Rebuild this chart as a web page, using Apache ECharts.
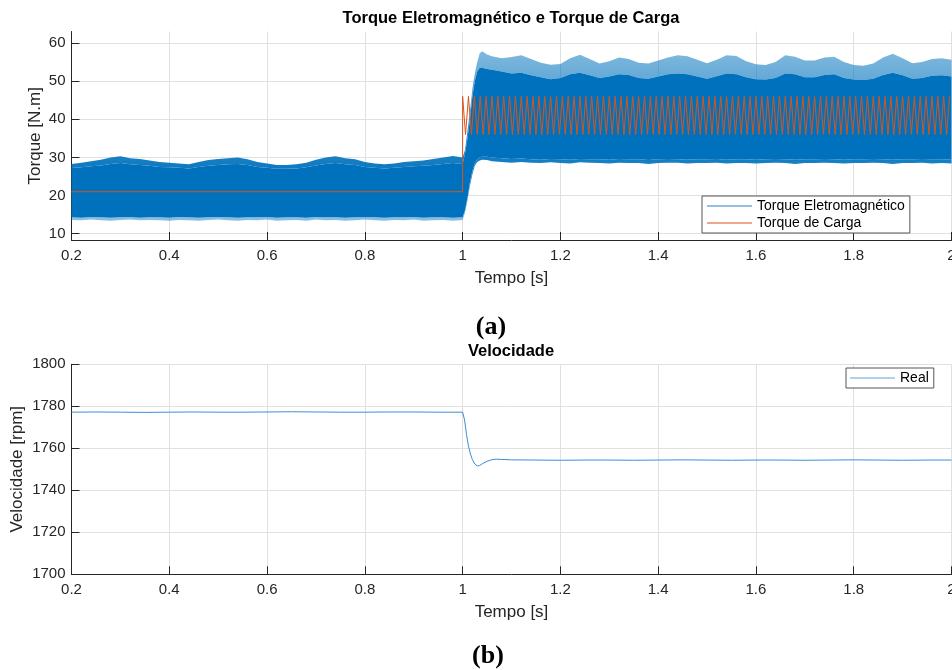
<!DOCTYPE html>
<html><head><meta charset="utf-8">
<script src="https://cdn.jsdelivr.net/npm/echarts@6/dist/echarts.min.js"></script>
<style>html,body{margin:0;padding:0;background:#fff}#c{width:952px;height:670px}</style>
</head><body><div id="c"></div>
<script>
// ---------- data ----------
const torqueYTicks = [10, 20, 30, 40, 50, 60];

// Electromagnetic torque envelope (time in s, torque in N.m)
const temTime = [0.20,0.22,0.24,0.26,0.28,0.30,0.32,0.34,0.36,0.38,0.40,0.42,0.44,0.46,0.48,0.50,0.52,0.54,0.56,0.58,0.60,0.62,0.64,0.66,0.68,0.70,0.72,0.74,0.76,0.78,0.80,0.82,0.84,0.86,0.88,0.90,0.92,0.94,0.96,0.98,1.00,
 1.005,1.01,1.015,1.02,1.025,1.03,1.035,1.04,1.05,
 1.06,1.08,1.10,1.12,1.14,1.16,1.18,1.20,1.22,1.24,1.26,1.28,1.30,1.32,1.34,1.36,1.38,1.40,1.42,1.44,1.46,1.48,1.50,1.52,1.54,1.56,1.58,1.60,1.62,1.64,1.66,1.68,1.70,1.72,1.74,1.76,1.78,1.80,1.82,1.84,1.86,1.88,1.90,1.92,1.94,1.96,1.98,2.00];
const temUpperPeak = [28.3,28.6,29.0,29.4,30.0,30.3,29.8,29.6,29.2,28.8,28.6,28.4,28.2,28.8,29.3,29.6,29.8,30.0,29.5,28.8,28.4,28.0,28.0,28.2,28.6,29.4,30.0,30.3,29.8,29.5,28.8,28.4,28.2,28.4,28.8,29.0,29.2,29.6,30.0,30.4,30.0,
 32,37,42,48,52,55,57.3,57.8,57.0,
 56.5,56.0,56.3,56.8,55.8,54.8,54.3,54.5,56.0,56.9,55.8,54.6,55.2,56.2,55.8,54.8,54.6,55.4,56.2,56.8,56.5,55.6,54.7,55.6,56.8,56.6,55.2,54.4,54.2,55.0,56.8,56.4,55.4,55.4,56.2,56.4,55.0,54.2,54.0,54.6,56.2,57.2,56.0,54.7,55.0,55.8,56.0,55.6];
const temUpper = [27.2,27.4,27.7,27.9,28.3,28.5,28.2,28.0,27.8,27.5,27.4,27.3,27.1,27.5,27.8,28.0,28.2,28.3,28.0,27.5,27.3,27.0,27.0,27.1,27.4,27.9,28.3,28.5,28.2,28.0,27.5,27.3,27.1,27.3,27.5,27.7,27.8,28.0,28.3,28.5,28.3,
 31,35,40,46,50,52.5,53.5,53.5,53.2,
 53.0,52.5,52.0,52.2,51.5,51.0,50.5,50.8,51.8,52.2,51.5,50.8,51.2,51.8,51.6,50.8,50.6,51.2,51.8,52.0,51.8,51.2,50.6,51.3,52.0,51.8,51.0,50.5,50.4,50.8,52.0,51.8,51.0,51.0,51.6,51.8,50.8,50.4,50.3,50.6,51.6,52.2,51.5,50.6,50.8,51.4,51.5,51.2];
const temLower = [14.3,14.2,14.4,14.3,14.2,14.3,14.4,14.2,14.3,14.3,14.2,14.4,14.3,14.2,14.3,14.4,14.3,14.2,14.3,14.3,14.4,14.2,14.3,14.3,14.2,14.4,14.3,14.3,14.2,14.3,14.4,14.3,14.2,14.3,14.3,14.4,14.2,14.3,14.3,14.2,14.3,
 16.2,19.5,23.5,26.5,28.5,29.5,30.0,30.2,30.2,
 30.0,29.8,29.6,29.7,29.5,29.4,29.6,29.5,29.4,29.6,29.5,29.5,29.4,29.6,29.5,29.5,29.3,29.5,29.6,29.5,29.4,29.5,29.5,29.6,29.4,29.5,29.5,29.4,29.5,29.6,29.5,29.4,29.5,29.5,29.6,29.5,29.4,29.5,29.5,29.6,29.5,29.4,29.5,29.5,29.6,29.5,29.5,29.4];
const temLowerPeak = [13.6,13.5,13.7,13.5,13.4,13.6,13.7,13.5,13.6,13.5,13.4,13.6,13.5,13.4,13.6,13.7,13.5,13.4,13.6,13.5,13.7,13.4,13.5,13.6,13.4,13.7,13.5,13.6,13.4,13.5,13.7,13.5,13.4,13.6,13.5,13.7,13.4,13.5,13.6,13.4,13.6,
 15.5,18.8,22.5,25.5,27.8,28.8,29.2,29.4,29.3,
 29.0,28.8,28.6,28.8,28.6,28.5,28.7,28.5,28.4,28.7,28.6,28.5,28.4,28.6,28.5,28.5,28.3,28.5,28.6,28.6,28.4,28.5,28.5,28.6,28.4,28.5,28.5,28.4,28.5,28.6,28.5,28.3,28.5,28.5,28.6,28.5,28.4,28.5,28.5,28.6,28.5,28.3,28.5,28.5,28.6,28.4,28.5,28.4];

// Load torque: constant part, then oscillation sampled every loadOscStep seconds from loadOscStart
const loadTime = [0.2, 1.0];
const loadValues = [21, 21];
const loadOscStart = 1.0;
const loadOscStep = 0.006;
const loadOscValues = [46,36,46,36,46,36,46,36,46,36,46,36,46,36,46,36,46,36,46,36,
 46,36,46,36,46,36,46,36,46,36,46,36,46,36,46,36,46,36,46,36,
 46,36,46,36,46,36,46,36,46,36,46,36,46,36,46,36,46,36,46,36,
 46,36,46,36,46,36,46,36,46,36,46,36,46,36,46,36,46,36,46,36,
 46,36,46,36,46,36,46,36,46,36,46,36,46,36,46,36,46,36,46,36,
 46,36,46,36,46,36,46,36,46,36,46,36,46,36,46,36,46,36,46,36,
 46,36,46,36,46,36,46,36,46,36,46,36,46,36,46,36,46,36,46,36,
 46,36,46,36,46,36,46,36,46,36,46,36,46,36,46,36,46,36,46,36,
 46,36,46,36,46,36,46];

// Speed (rpm)
const speedTime = [0.20,0.25,0.30,0.35,0.40,0.45,0.50,0.55,0.60,0.65,0.70,0.75,0.80,0.85,0.90,0.95,1.00,
 1.004,1.008,1.012,1.016,1.02,1.025,1.03,1.035,1.04,1.05,1.06,1.07,1.08,1.10,
 1.15,1.20,1.25,1.30,1.35,1.40,1.45,1.50,1.55,1.60,1.65,1.70,1.75,1.80,1.85,1.90,1.95,2.00];
const speedValues = [1777.2,1777.3,1777.2,1777.1,1777.2,1777.3,1777.2,1777.2,1777.3,1777.4,1777.3,1777.2,1777.2,1777.3,1777.3,1777.2,1777.2,
 1773.5,1766.5,1761.0,1757.3,1754.6,1752.5,1751.6,1751.8,1752.6,1753.8,1754.6,1754.8,1754.7,1754.5,
 1754.4,1754.3,1754.4,1754.4,1754.3,1754.4,1754.5,1754.4,1754.3,1754.4,1754.4,1754.3,1754.4,1754.5,1754.4,1754.3,1754.4,1754.4];

// ---------- build ----------
const FONT = '"Liberation Sans", Arial, Helvetica, sans-serif';
const AX = '#262626';
const GRIDC = '#e0e0e0';
const BLUE = '#0072BD';
const ORANGE = '#D95319';

function pairs(t, v) { return t.map((x, i) => [x, v[i]]); }
const fringeUp = new echarts.graphic.LinearGradient(0, 0, 0, 1, [
  { offset: 0, color: 'rgba(0,114,189,0.5)' }, { offset: 1, color: 'rgba(0,114,189,0.95)' }]);
const fringeDown = new echarts.graphic.LinearGradient(0, 0, 0, 1, [
  { offset: 0, color: 'rgba(0,114,189,0.95)' }, { offset: 1, color: 'rgba(0,114,189,0.45)' }]);
const bands = [
  { low: temLowerPeak, high: temLower, fill: fringeDown },
  { low: temLower, high: temUpper, fill: BLUE },
  { low: temUpper, high: temUpperPeak, fill: fringeUp }
];
const loadData = pairs(loadTime, loadValues).concat(loadOscValues.map((v, i) => [loadOscStart + i * loadOscStep, v]));
const speedData = pairs(speedTime, speedValues);

function xAxisCfg(gi) {
  return {
    type: 'value', gridIndex: gi, min: 0.2, max: 2, interval: 0.2,
    name: 'Tempo [s]', nameLocation: 'middle', nameGap: 30, nameMoveOverlap: false,
    nameTextStyle: { fontFamily: FONT, fontSize: 17, color: AX },
    axisLine: { show: true, lineStyle: { color: AX, width: 1 } },
    axisTick: { show: true, inside: true, length: 8, lineStyle: { color: AX } },
    axisLabel: { fontFamily: FONT, fontSize: 15, color: AX, margin: 8 },
    splitLine: { show: true, lineStyle: { color: GRIDC, width: 1 } }
  };
}
const plainFmt = v => String(v);

const chart = echarts.init(document.getElementById('c'), null, { renderer: 'canvas' });
chart.setOption({
  animation: false,
  backgroundColor: '#fff',
  grid: [
    { left: 71.5, right: 0.5, top: 31.5, height: 208.5, containLabel: false, outerBoundsMode: 'none' },
    { left: 71.5, right: 0.5, top: 364.3, height: 210, containLabel: false, outerBoundsMode: 'none' }
  ],
  xAxis: [xAxisCfg(0), xAxisCfg(1)],
  yAxis: [
    {
      type: 'value', gridIndex: 0, min: 8.35, max: 63,
      name: 'Torque [N.m]', nameLocation: 'middle', nameGap: 28, nameMoveOverlap: false,
      nameTextStyle: { fontFamily: FONT, fontSize: 17, color: AX },
      axisLine: { show: true, lineStyle: { color: AX, width: 1 } },
      axisTick: { show: true, inside: true, length: 8, lineStyle: { color: AX }, customValues: torqueYTicks },
      axisLabel: { fontFamily: FONT, fontSize: 15, color: AX, margin: 6, customValues: torqueYTicks, formatter: plainFmt },
      splitLine: { show: true, lineStyle: { color: GRIDC, width: 1 } }
    },
    {
      type: 'value', gridIndex: 1, min: 1700, max: 1800, interval: 20,
      name: 'Velocidade [rpm]', nameLocation: 'middle', nameGap: 46, nameMoveOverlap: false,
      nameTextStyle: { fontFamily: FONT, fontSize: 17, color: AX },
      axisLine: { show: true, lineStyle: { color: AX, width: 1 } },
      axisTick: { show: true, inside: true, length: 8, lineStyle: { color: AX } },
      axisLabel: { fontFamily: FONT, fontSize: 15, color: AX, margin: 6, formatter: plainFmt },
      splitLine: { show: true, lineStyle: { color: GRIDC, width: 1 } }
    }
  ],
  legend: [
    {
      data: [
        { name: 'Torque Eletromagnético', itemStyle: { color: '#2a80c6' } },
        { name: 'Torque de Carga', itemStyle: { color: ORANGE } }
      ],
      orient: 'vertical', left: 702, top: 196, icon: 'rect', itemWidth: 45, itemHeight: 1, itemGap: 3,
      padding: [3, 5, 3, 5], backgroundColor: '#fff', borderColor: '#555', borderWidth: 1, borderRadius: 0,
      textStyle: { fontFamily: FONT, fontSize: 14, color: '#000' }, selectedMode: false
    },
    {
      data: [{ name: 'Real', itemStyle: { color: '#5aa5dd' } }],
      orient: 'vertical', left: 846, top: 368, icon: 'rect', itemWidth: 45, itemHeight: 1,
      padding: [3, 5, 3, 4], backgroundColor: '#fff', borderColor: '#555', borderWidth: 1, borderRadius: 0,
      textStyle: { fontFamily: FONT, fontSize: 14, color: '#000' }, selectedMode: false
    }
  ],
  graphic: [
    { type: 'text', x: 511, y: 18, style: { text: 'Torque Eletromagnético e Torque de Carga', font: 'bold 16.5px ' + FONT, fill: '#000', textAlign: 'center', textVerticalAlign: 'middle' } },
    { type: 'text', x: 511, y: 351, style: { text: 'Velocidade', font: 'bold 16.5px ' + FONT, fill: '#000', textAlign: 'center', textVerticalAlign: 'middle' } },
    { type: 'text', x: 491, y: 327.5, style: { text: '(a)', font: 'bold 26px "Liberation Serif", "Times New Roman", serif', fill: '#000', textAlign: 'center', textVerticalAlign: 'middle' } },
    { type: 'text', x: 488, y: 656.5, style: { text: '(b)', font: 'bold 26px "Liberation Serif", "Times New Roman", serif', fill: '#000', textAlign: 'center', textVerticalAlign: 'middle' } }
  ],
  series: [
    {
      name: 'Torque Eletromagnético', type: 'custom', xAxisIndex: 0, yAxisIndex: 0, clip: true, silent: true,
      color: BLUE,
      data: bands.map(b => [temTime[0], b.low[0]]),
      renderItem: function (params, api) {
        const b = bands[params.dataIndex];
        const top = temTime.map((t, i) => api.coord([t, b.high[i]]));
        const bottom = temTime.map((t, i) => api.coord([t, b.low[i]])).reverse();
        return { type: 'polygon', shape: { points: top.concat(bottom) }, style: { fill: b.fill, stroke: null } };
      }
    },
    { name: 'Torque de Carga', type: 'line', xAxisIndex: 0, yAxisIndex: 0, data: loadData, showSymbol: false, symbol: 'none',
      color: ORANGE, lineStyle: { width: 1, color: ORANGE }, silent: true },
    { name: 'Real', type: 'line', xAxisIndex: 1, yAxisIndex: 1, data: speedData, showSymbol: false, symbol: 'none',
      color: '#3b8ed3', lineStyle: { width: 1, color: '#3b8ed3' }, silent: true }
  ]
});
</script>
</body></html>
